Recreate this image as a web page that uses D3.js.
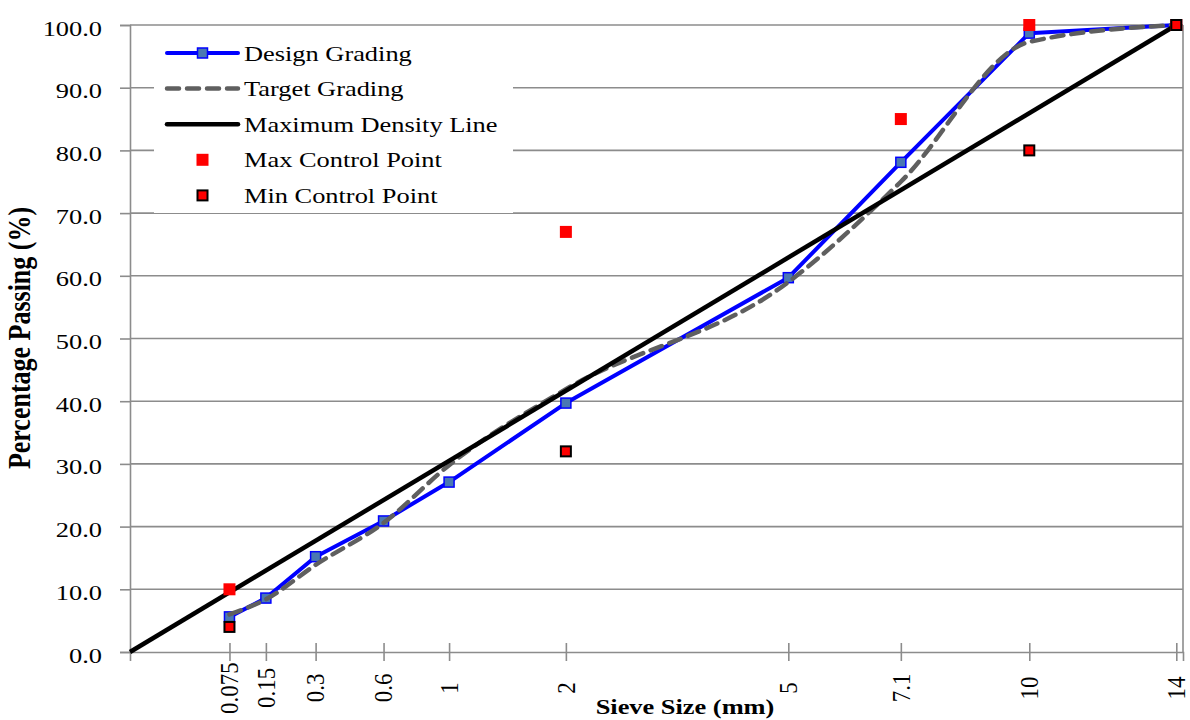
<!DOCTYPE html>
<html>
<head>
<meta charset="utf-8">
<script src="https://cdn.jsdelivr.net/npm/d3@7"></script>
<style>
  html, body { margin: 0; padding: 0; background: #fff; }
  svg { display: block; }
  text { font-family: "Liberation Serif", "Times New Roman", serif; fill: #000; }
</style>
</head>
<body>
<svg id="chart" width="1190" height="720"></svg>
<script>
// Sieve sizes (mm) and grading data
const sieveSizes   = [0.075, 0.15, 0.3, 0.6, 1, 2, 5, 7.1, 10, 14];
const sieveLabels  = ["0.075", "0.15", "0.3", "0.6", "1", "2", "5", "7.1", "10", "14"];
const designGrading = [5.6, 8.6, 15.2, 20.9, 27.1, 39.7, 59.7, 78.1, 98.7, 100];
const targetGrading = [6.0, 8.4, 13.9, 20.6, 29.8, 41.9, 59.0, 75.0, 97.3, 100];

// Maximum density line (0.45 power) end points
const maxDensitySizes  = [0, 14];
const maxDensityValues = [0, 100];

// Control points
const maxControlSizes  = [0.075, 2, 7.1, 10, 14];
const maxControlValues = [10, 67, 85, 100, 100];
const minControlSizes  = [0.075, 2, 10, 14];
const minControlValues = [4, 32, 80, 100];

// Axis settings
const yTicks = [0, 10, 20, 30, 40, 50, 60, 70, 80, 90, 100];
const xDomainMax = 14.2;
const powerExponent = 0.45;

const legendItems = ["Design Grading", "Target Grading", "Maximum Density Line", "Max Control Point", "Min Control Point"];

const svg = d3.select("#chart");
const plot = { left: 130, right: 1183, top: 25, bottom: 652 };
const SX = 1.2; // horizontal glyph stretch

const x = d3.scalePow().exponent(powerExponent).domain([0, xDomainMax]).range([plot.left, plot.right]);
const y = d3.scaleLinear().domain([0, 100]).range([plot.bottom, plot.top]);

const gridColor = "#8c8c8c";

// Horizontal gridlines
svg.append("g").selectAll("line").data(yTicks.filter(d => d > 0)).join("line")
  .attr("x1", plot.left).attr("x2", plot.right)
  .attr("y1", d => y(d)).attr("y2", d => y(d))
  .attr("stroke", gridColor).attr("stroke-width", 1.6);

// Right border
svg.append("line").attr("x1", plot.right).attr("x2", plot.right)
  .attr("y1", plot.top).attr("y2", plot.bottom)
  .attr("stroke", gridColor).attr("stroke-width", 1.6);

// Y axis
const yAxis = d3.axisLeft(y).tickValues(yTicks).tickSize(10).tickFormat(d3.format(".1f"));
const gy = svg.append("g").attr("transform", `translate(${plot.left},0)`).call(yAxis);
gy.select(".domain").attr("stroke", gridColor).attr("stroke-width", 1.6);
gy.selectAll(".tick line").attr("stroke", gridColor).attr("stroke-width", 1.6);
gy.selectAll(".tick text")
  .attr("x", null).attr("dy", null)
  .attr("transform", `translate(-28,10) scale(${SX},1)`)
  .attr("text-anchor", "end")
  .style("font-size", "22px")
  .style("font-family", "'Liberation Serif', serif");

// X axis (cross ticks)
const xAxis = d3.axisBottom(x).tickValues(sieveSizes).tickSize(9)
  .tickFormat((d, i) => sieveLabels[i]);
const gx = svg.append("g").attr("transform", `translate(0,${plot.bottom})`).call(xAxis);
gx.select(".domain").attr("stroke", gridColor).attr("stroke-width", 1.6);
gx.selectAll(".tick line").attr("y1", -9).attr("y2", 9).attr("stroke", gridColor).attr("stroke-width", 1.6);
gx.selectAll(".tick text")
  .attr("y", null).attr("dy", null)
  .attr("transform", `translate(0,36) scale(1.05,1) rotate(-90)`)
  .attr("text-anchor", "middle")
  .attr("dominant-baseline", "central")
  .style("font-size", "23px")
  .style("font-family", "'Liberation Serif', serif");

// Axis titles
svg.append("text")
  .attr("transform", `translate(685,714) scale(${SX},1)`)
  .attr("text-anchor", "middle")
  .style("font-size", "22px").style("font-weight", "bold")
  .text("Sieve Size (mm)");

svg.append("text")
  .attr("transform", `translate(30,338) scale(${SX},1) rotate(-90)`)
  .attr("text-anchor", "middle")
  .style("font-size", "26px").style("font-weight", "bold")
  .text("Percentage Passing (%)");

// Series
const designPts = sieveSizes.map((s, i) => [s, designGrading[i]]);
const targetPts = sieveSizes.map((s, i) => [s, targetGrading[i]]);
const densityPts = maxDensitySizes.map((s, i) => [s, maxDensityValues[i]]);

const line = d3.line().x(d => x(d[0])).y(d => y(d[1]));
const smooth = d3.line().x(d => x(d[0])).y(d => y(d[1])).curve(d3.curveMonotoneX);

const BLUE = "#0000ff", MARK = "#4a78b2", DASH = "#5f5f5f", RED = "#ff0000";

svg.append("path").datum(designPts).attr("d", line)
  .attr("fill", "none").attr("stroke", BLUE).attr("stroke-width", 4).attr("stroke-linejoin", "round");

svg.append("g").selectAll("rect").data(designPts).join("rect")
  .attr("x", d => x(d[0]) - 5).attr("y", d => y(d[1]) - 5)
  .attr("width", 10).attr("height", 10)
  .attr("fill", MARK).attr("stroke", BLUE).attr("stroke-width", 1.5);

svg.append("path").datum(targetPts).attr("d", smooth)
  .attr("fill", "none").attr("stroke", DASH).attr("stroke-width", 4.5)
  .attr("stroke-dasharray", "12,8").attr("stroke-linecap", "round");

svg.append("path").datum(densityPts).attr("d", line)
  .attr("fill", "none").attr("stroke", "#000").attr("stroke-width", 4.5);

svg.append("g").selectAll("rect").data(maxControlSizes.map((s, i) => [s, maxControlValues[i]])).join("rect")
  .attr("x", d => x(d[0]) - 6).attr("y", d => y(d[1]) - 6)
  .attr("width", 12).attr("height", 12).attr("fill", RED);

svg.append("g").selectAll("rect").data(minControlSizes.map((s, i) => [s, minControlValues[i]])).join("rect")
  .attr("x", d => x(d[0]) - 5).attr("y", d => y(d[1]) - 5)
  .attr("width", 10).attr("height", 10)
  .attr("fill", RED).attr("stroke", "#000").attr("stroke-width", 2);

// Legend
const lg = svg.append("g");
lg.append("rect").attr("x", 154).attr("y", 29).attr("width", 359).attr("height", 184).attr("fill", "#fff");
const rowY = i => 53 + i * 35.6;
const lx1 = 167, lx2 = 238, lmid = (lx1 + lx2) / 2;

lg.append("line").attr("x1", lx1).attr("x2", lx2).attr("y1", rowY(0)).attr("y2", rowY(0))
  .attr("stroke", BLUE).attr("stroke-width", 4).attr("stroke-linecap", "round");
lg.append("rect").attr("x", lmid - 5).attr("y", rowY(0) - 5).attr("width", 10).attr("height", 10)
  .attr("fill", MARK).attr("stroke", BLUE).attr("stroke-width", 1.5);
lg.append("line").attr("x1", lx1).attr("x2", lx2).attr("y1", rowY(1)).attr("y2", rowY(1))
  .attr("stroke", DASH).attr("stroke-width", 4.5).attr("stroke-dasharray", "12,8").attr("stroke-linecap", "round");
lg.append("line").attr("x1", lx1).attr("x2", lx2).attr("y1", rowY(2)).attr("y2", rowY(2))
  .attr("stroke", "#000").attr("stroke-width", 4.5).attr("stroke-linecap", "round");
lg.append("rect").attr("x", lmid - 6).attr("y", rowY(3) - 6).attr("width", 12).attr("height", 12).attr("fill", RED);
lg.append("rect").attr("x", lmid - 5).attr("y", rowY(4) - 5).attr("width", 10).attr("height", 10)
  .attr("fill", RED).attr("stroke", "#000").attr("stroke-width", 2);

lg.selectAll("text.item").data(legendItems).join("text")
  .attr("class", "item")
  .attr("transform", (d, i) => `translate(244,${rowY(i) + 7.5}) scale(${SX},1)`)
  .style("font-size", "22px")
  .text(d => d);
</script>
</body>
</html>
